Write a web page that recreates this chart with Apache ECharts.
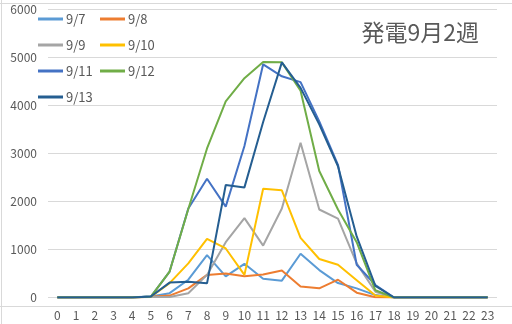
<!DOCTYPE html>
<html><head><meta charset="utf-8">
<script src="https://cdn.jsdelivr.net/npm/echarts@6/dist/echarts.min.js"></script>
<style>html,body{margin:0;padding:0;background:#fff}#c{width:512px;height:324px}</style>
</head><body><div id="c"></div>
<script>
const hours = ['0','1','2','3','4','5','6','7','8','9','10','11','12','13','14','15','16','17','18','19','20','21','22','23'];
const yTicks = [0,1000,2000,3000,4000,5000,6000];
const names = ['9/7','9/8','9/9','9/10','9/11','9/12','9/13'];
const colors = ['#5B9BD5','#ED7D31','#A5A5A5','#FFC000','#4472C4','#70AD47','#255E91'];
const d0907 = [0,0,0,0,5,20,90,370,880,440,700,390,350,910,570,300,190,50,0,0,0,0,0,0];
const d0908 = [0,0,0,0,0,15,40,190,470,500,440,480,560,230,190,370,100,5,0,0,0,0,0,0];
const d0909 = [0,0,0,0,0,10,10,90,470,1150,1650,1080,1850,3220,1830,1640,710,120,0,0,0,0,0,0];
const d0910 = [0,0,0,0,0,15,300,710,1220,1020,470,2260,2230,1240,800,680,360,40,0,0,0,0,0,0];
const d0911 = [0,0,0,0,0,20,540,1850,2470,1890,3150,4850,4600,4480,3660,2760,680,260,0,0,0,0,0,0];
const d0912 = [0,0,0,0,0,20,540,1840,3100,4080,4560,4900,4890,4300,2630,1830,1150,150,0,0,0,0,0,0];
const d0913 = [0,0,0,0,0,20,310,330,295,2340,2290,3650,4890,4360,3600,2730,1270,240,0,0,0,0,0,0];
const title = '発電9月2週';
const allData = [d0907,d0908,d0909,d0910,d0911,d0912,d0913];

const chart = echarts.init(document.getElementById('c'), null, {renderer:'canvas'});
const txt = '#595959';
const font = '"Noto Sans CJK JP","Noto Sans",sans-serif';
const legendCommon = {
  orient:'vertical', itemWidth:25, itemHeight:3, itemGap:12, icon:'rect',
  textStyle:{color:txt, fontSize:13, lineHeight:14, fontFamily:font, padding:[0,0,0,-2]},
  padding:0
};
const option = {
  animation:false,
  color: colors,
  title:{text:title, right:28, top:16, textStyle:{color:txt, fontSize:23, fontWeight:'normal', fontFamily:font}},
  legend:[
    Object.assign({}, legendCommon, {left:38, top:12, data:[names[0],names[2],names[4],names[6]]}),
    Object.assign({}, legendCommon, {left:100, top:12, data:[names[1],names[3],names[5]]})
  ],
  grid:{left:48, right:15, top:9, bottom:26.5},
  xAxis:{type:'category', data:hours, boundaryGap:true,
    axisLine:{show:false}, axisTick:{show:false},
    axisLabel:{color:txt, fontSize:12, fontFamily:font, margin:12}},
  yAxis:{type:'value', min:yTicks[0], max:yTicks[yTicks.length-1], interval:1000,
    axisLine:{show:false}, axisTick:{show:false},
    splitLine:{lineStyle:{color:'#d9d9d9', width:1}},
    axisLabel:{color:txt, fontSize:12, fontFamily:font, margin:11, formatter:(v)=>String(v)}},
  graphic:[
    {type:'line', shape:{x1:0,y1:306.5,x2:512,y2:306.5}, style:{stroke:'#d9d9d9', lineWidth:1}, silent:true},
    {type:'line', shape:{x1:0,y1:3.5,x2:512,y2:3.5}, style:{stroke:'#d9d9d9', lineWidth:1}, silent:true},
    {type:'line', shape:{x1:1.5,y1:0,x2:1.5,y2:324}, style:{stroke:'#d9d9d9', lineWidth:1}, silent:true}
  ],
  series: names.map((n,i)=>({
    name:n, type:'line', data:allData[i], symbol:'none', showSymbol:false,
    lineStyle:{width:2, color:colors[i]}, itemStyle:{color:colors[i]}
  }))
};
chart.setOption(option);
</script></body></html>
